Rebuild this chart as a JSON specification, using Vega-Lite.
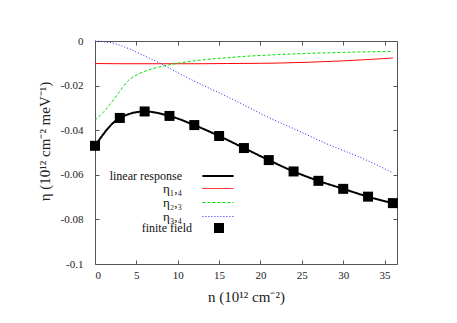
{
  "$schema": "https://vega.github.io/schema/vega-lite/v6.json",
  "width": 302,
  "height": 223,
  "autosize": "none",
  "padding": {"left": 95, "top": 41, "right": 60, "bottom": 59},
  "background": "white",
  "config": {
    "view": {"stroke": null},
    "font": "Liberation Serif",
    "axis": {
      "domainColor": "#555555",
      "tickColor": "#555555",
      "tickSize": -4,
      "grid": false,
      "labelFont": "Liberation Serif",
      "labelFontSize": 11,
      "labelColor": "#222222",
      "titleFont": "Liberation Serif",
      "titleFontSize": 15,
      "titleFontWeight": "normal",
      "titleColor": "#222222"
    }
  },
  "datasets": {
    "lines": [
      {"n": 0, "eta": -0.047, "series": "linear response"},
      {"n": 3, "eta": -0.0345, "series": "linear response"},
      {"n": 6, "eta": -0.0316, "series": "linear response"},
      {"n": 9, "eta": -0.0336, "series": "linear response"},
      {"n": 12, "eta": -0.0377, "series": "linear response"},
      {"n": 15, "eta": -0.0426, "series": "linear response"},
      {"n": 18, "eta": -0.048, "series": "linear response"},
      {"n": 21, "eta": -0.0534, "series": "linear response"},
      {"n": 24, "eta": -0.0585, "series": "linear response"},
      {"n": 27, "eta": -0.0627, "series": "linear response"},
      {"n": 30, "eta": -0.0663, "series": "linear response"},
      {"n": 33, "eta": -0.0698, "series": "linear response"},
      {"n": 36, "eta": -0.0727, "series": "linear response"},
      {"n": 0, "eta": -0.0101, "series": "η₁,₄"},
      {"n": 4, "eta": -0.0102, "series": "η₁,₄"},
      {"n": 8, "eta": -0.0102, "series": "η₁,₄"},
      {"n": 12, "eta": -0.0102, "series": "η₁,₄"},
      {"n": 16, "eta": -0.0101, "series": "η₁,₄"},
      {"n": 20, "eta": -0.01, "series": "η₁,₄"},
      {"n": 22, "eta": -0.0099, "series": "η₁,₄"},
      {"n": 24, "eta": -0.0097, "series": "η₁,₄"},
      {"n": 26, "eta": -0.0095, "series": "η₁,₄"},
      {"n": 28, "eta": -0.0092, "series": "η₁,₄"},
      {"n": 30, "eta": -0.0089, "series": "η₁,₄"},
      {"n": 32, "eta": -0.0085, "series": "η₁,₄"},
      {"n": 34, "eta": -0.0081, "series": "η₁,₄"},
      {"n": 36, "eta": -0.0076, "series": "η₁,₄"},
      {"n": 0, "eta": -0.0355, "series": "η₂,₃"},
      {"n": 1, "eta": -0.032, "series": "η₂,₃"},
      {"n": 2, "eta": -0.0275, "series": "η₂,₃"},
      {"n": 3, "eta": -0.0225, "series": "η₂,₃"},
      {"n": 4, "eta": -0.0178, "series": "η₂,₃"},
      {"n": 5, "eta": -0.0153, "series": "η₂,₃"},
      {"n": 6, "eta": -0.0136, "series": "η₂,₃"},
      {"n": 7, "eta": -0.0124, "series": "η₂,₃"},
      {"n": 8, "eta": -0.0114, "series": "η₂,₃"},
      {"n": 9, "eta": -0.0107, "series": "η₂,₃"},
      {"n": 10, "eta": -0.01, "series": "η₂,₃"},
      {"n": 12, "eta": -0.0089, "series": "η₂,₃"},
      {"n": 14, "eta": -0.0081, "series": "η₂,₃"},
      {"n": 16, "eta": -0.0075, "series": "η₂,₃"},
      {"n": 18, "eta": -0.0069, "series": "η₂,₃"},
      {"n": 20, "eta": -0.0065, "series": "η₂,₃"},
      {"n": 22, "eta": -0.0061, "series": "η₂,₃"},
      {"n": 24, "eta": -0.0058, "series": "η₂,₃"},
      {"n": 26, "eta": -0.0055, "series": "η₂,₃"},
      {"n": 28, "eta": -0.0053, "series": "η₂,₃"},
      {"n": 30, "eta": -0.0051, "series": "η₂,₃"},
      {"n": 32, "eta": -0.0049, "series": "η₂,₃"},
      {"n": 34, "eta": -0.0048, "series": "η₂,₃"},
      {"n": 36, "eta": -0.0047, "series": "η₂,₃"},
      {"n": 0, "eta": 0, "series": "η₃,₄"},
      {"n": 2, "eta": -0.0008, "series": "η₃,₄"},
      {"n": 4, "eta": -0.0033, "series": "η₃,₄"},
      {"n": 6, "eta": -0.0067, "series": "η₃,₄"},
      {"n": 8, "eta": -0.0102, "series": "η₃,₄"},
      {"n": 10, "eta": -0.0142, "series": "η₃,₄"},
      {"n": 12, "eta": -0.018, "series": "η₃,₄"},
      {"n": 14, "eta": -0.0215, "series": "η₃,₄"},
      {"n": 16, "eta": -0.025, "series": "η₃,₄"},
      {"n": 18, "eta": -0.0287, "series": "η₃,₄"},
      {"n": 20, "eta": -0.0325, "series": "η₃,₄"},
      {"n": 22, "eta": -0.036, "series": "η₃,₄"},
      {"n": 24, "eta": -0.0393, "series": "η₃,₄"},
      {"n": 26, "eta": -0.0427, "series": "η₃,₄"},
      {"n": 28, "eta": -0.0461, "series": "η₃,₄"},
      {"n": 30, "eta": -0.0491, "series": "η₃,₄"},
      {"n": 32, "eta": -0.0521, "series": "η₃,₄"},
      {"n": 34, "eta": -0.0555, "series": "η₃,₄"},
      {"n": 36, "eta": -0.0591, "series": "η₃,₄"}
    ],
    "pts": [
      {"n": 0, "eta": -0.047},
      {"n": 3, "eta": -0.0345},
      {"n": 6, "eta": -0.0316},
      {"n": 9, "eta": -0.0336},
      {"n": 12, "eta": -0.0377},
      {"n": 15, "eta": -0.0426},
      {"n": 18, "eta": -0.048},
      {"n": 21, "eta": -0.0534},
      {"n": 24, "eta": -0.0585},
      {"n": 27, "eta": -0.0627},
      {"n": 30, "eta": -0.0663},
      {"n": 33, "eta": -0.0698},
      {"n": 36, "eta": -0.0727}
    ]
  },
  "layer": [
    {
      "data": {"name": "lines"},
      "mark": {"type": "line", "interpolate": "monotone"},
      "encoding": {
        "x": {
          "field": "n", "type": "quantitative",
          "scale": {"domain": [0, 36.5], "nice": false, "zero": false},
          "axis": {"orient": "bottom", "values": [0, 5, 10, 15, 20, 25, 30, 35], "labelPadding": 9, "title": "n (10¹² cm⁻²)", "titleX": 151, "titleY": 37, "titleBaseline": "alphabetic"}
        },
        "y": {
          "field": "eta", "type": "quantitative",
          "scale": {"domain": [-0.1, 0], "nice": false, "zero": false},
          "axis": {"orient": "left", "values": [0, -0.02, -0.04, -0.06, -0.08, -0.1], "labelPadding": 16, "labelExpr": "datum.value == 0 ? '0' : '-' + format(-datum.value, '.2~f')", "title": "η (10¹² cm⁻² meV⁻¹)", "titleX": -46, "titleY": 100, "titleAlign": "center", "titleBaseline": "alphabetic"}
        },
        "color": {
          "field": "series", "type": "nominal",
          "scale": {"domain": ["linear response", "η₁,₄", "η₂,₃", "η₃,₄"], "range": ["#000000", "#ff0000", "#00e000", "#2020ff"]},
          "legend": {
            "orient": "none", "legendX": 116, "legendY": 128, "title": null,
            "symbolType": "M-2.6,0H2.6", "symbolSize": 144, "symbolStrokeWidth": 1.5,
            "labelAlign": "right", "labelOffset": -43, "labelFont": "Liberation Serif", "labelFontSize": 12, "labelColor": "#111111", "rowPadding": -2.5,
            "encode": {"labels": {"update": {"fontSize": {"signal": "datum.label == 'linear response' ? 12 : 13"}}}}
          }
        },
        "strokeDash": {
          "field": "series", "type": "nominal",
          "scale": {"domain": ["linear response", "η₁,₄", "η₂,₃", "η₃,₄"], "range": [[1, 0], [1, 0], [3, 2], [1, 2]]}
        },
        "strokeWidth": {
          "field": "series", "type": "nominal",
          "scale": {"type": "ordinal", "domain": ["linear response", "η₁,₄", "η₂,₃", "η₃,₄"], "range": [2, 1, 1, 1]},
          "legend": null
        }
      }
    },
    {
      "data": {"name": "pts"},
      "mark": {"type": "point", "shape": "square", "filled": true, "size": 100, "color": "#000000", "opacity": 1},
      "encoding": {
        "x": {
          "field": "n", "type": "quantitative",
          "scale": {"domain": [0, 36.5], "nice": false, "zero": false},
          "axis": {"orient": "top", "values": [0, 5, 10, 15, 20, 25, 30, 35], "labels": false, "title": null}
        },
        "y": {
          "field": "eta", "type": "quantitative",
          "scale": {"domain": [-0.1, 0], "nice": false, "zero": false},
          "axis": {"orient": "right", "values": [0, -0.02, -0.04, -0.06, -0.08, -0.1], "labels": false, "title": null}
        },
        "shape": {
          "datum": "finite field", "type": "nominal",
          "scale": {"range": ["square"]},
          "legend": {"orient": "none", "legendX": 118, "legendY": 181, "title": null, "symbolSize": 100, "symbolFillColor": "#000000", "symbolStrokeColor": "#000000", "symbolOpacity": 1, "labelAlign": "right", "labelOffset": -33, "labelFont": "Liberation Serif", "labelFontSize": 12, "labelColor": "#111111"}
        }
      }
    }
  ],
  "resolve": {"axis": {"x": "independent", "y": "independent"}}
}
